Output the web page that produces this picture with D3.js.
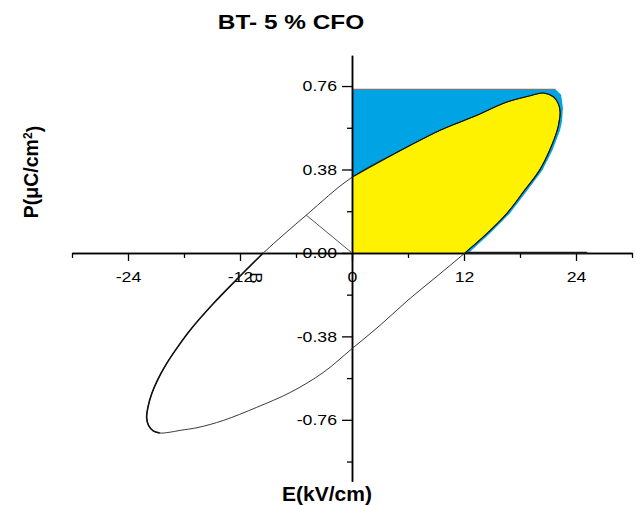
<!DOCTYPE html>
<html><head><meta charset="utf-8">
<script src="https://cdn.jsdelivr.net/npm/d3@7"></script>
<style>body{margin:0;background:#fff}svg{display:block}text{font-family:"Liberation Sans",Arial,sans-serif;fill:#000}</style>
</head><body><svg id="c" width="636" height="505"></svg>
<script>
const titleText = "BT- 5 % CFO";
const xTitle = "E(kV/cm)";
const xMajor = [-24, -12, 0, 12, 24];
const xMinor = [-30, -18, -6, 6, 18, 30];
const yMajor = [-0.76, -0.38, 0, 0.38, 0.76];
const yMinor = [-0.95, -0.57, -0.19, 0.19, 0.57];
// ascending (upper) branch of the P-E loop
const upE = [-20.6, -21.3, -21.8, -22.0, -21.85, -21.45, -20.85, -19.95, -18.95, -17.35, -14.95, -12.45, -9.5, -4.9, 0, 5.8, 9.5, 13, 16.6, 19, 20.5, 21.6, 22.1, 22.3];
const upP = [-0.82, -0.81, -0.785, -0.75, -0.70, -0.64, -0.58, -0.51, -0.445, -0.352, -0.235, -0.125, 0, 0.172, 0.345, 0.48, 0.56, 0.62, 0.687, 0.715, 0.728, 0.71, 0.68, 0.64];
// descending (lower) branch
const dnE = [22.3, 22.2, 22.0, 21.2, 20.1, 18.4, 16.6, 14.5, 12.1, 9, 6, 3, 0, -3.1, -6.6, -10.2, -13.8, -16.5, -18.4, -19.6, -20.6];
const dnP = [0.64, 0.60, 0.56, 0.47, 0.377, 0.28, 0.18, 0.09, 0, -0.11, -0.215, -0.33, -0.436, -0.545, -0.635, -0.703, -0.763, -0.795, -0.808, -0.817, -0.82];
// blue (recoverable-energy) region outline
const blueE = [0, 21.8, 22.4, 22.6, 22.5, 22.3, 21.5, 20.4, 18.7, 16.9, 14.8, 12.5, 0];
const blueP = [0.745, 0.745, 0.72, 0.66, 0.60, 0.56, 0.47, 0.377, 0.28, 0.18, 0.09, 0, 0];
const chordE = [0, -4.9], chordP = [0, 0.172];
const traceE = [12.3, 25.2], traceP = [0, 0];
const markText = "B", markE = -10.3, markP = -0.114;

const svg = d3.select("#c");
const x = d3.scaleLinear().domain([-30, 30]).range([72, 632]);
const y = d3.scaleLinear().domain([-1.04, 0.90]).range([481.3, 55.3]);
const pts = (a, b) => a.map((v, i) => [v, b[i]]);
const line = d3.line().x(d => x(d[0])).y(d => y(d[1]));

// fills
svg.append("path").attr("d", line(pts(blueE, blueP)) + "Z").attr("fill", "#00A3E4");
svg.append("line").attr("x1", x(blueE[0])).attr("x2", x(blueE[1]))
  .attr("y1", y(blueP[0])).attr("y2", y(blueP[1])).attr("stroke", "#7a7a7a").attr("stroke-width", 1.2);
const up = pts(upE, upP), dn = pts(dnE, dnP);
const arc = up.filter(d => d[0] >= 0).concat(dn.slice(1).filter(d => d[1] >= 0));
const cr = d3.line().x(d => x(d[0])).y(d => y(d[1])).curve(d3.curveCatmullRom.alpha(0.5));
svg.append("path").attr("d", cr(arc) + `L${x(0)},${y(0)}Z`).attr("fill", "#FFF200");

// axes
const fmtX = d => String(d);
const fmtY = d => d.toFixed(2);
const gx = svg.append("g").attr("transform", `translate(0,${y(0)})`);
gx.call(d3.axisBottom(x).tickValues(xMinor).tickSize(5).tickSizeOuter(0).tickFormat(""));
gx.append("g").call(d3.axisBottom(x).tickValues(xMajor).tickSize(8).tickSizeOuter(0).tickPadding(11).tickFormat(fmtX));
const gy = svg.append("g").attr("transform", `translate(${x(0)},0)`);
gy.call(d3.axisLeft(y).tickValues(yMinor).tickSize(5).tickSizeOuter(0).tickFormat(""));
gy.append("g").call(d3.axisLeft(y).tickValues(yMajor).tickSize(10).tickSizeOuter(0).tickPadding(5).tickFormat(fmtY));
svg.selectAll(".domain").attr("stroke", "#000").attr("stroke-width", 1.5);
svg.selectAll(".tick line").attr("stroke", "#000").attr("stroke-width", 1.3);
svg.selectAll(".tick text").attr("font-size", "14.5px").attr("fill", "#000")
  .attr("font-family", '"Liberation Sans",Arial,sans-serif');
gx.selectAll(".tick text").attr("transform", "scale(1.22,1)");
gy.selectAll(".tick text").attr("x", -15 / 1.22).attr("transform", "scale(1.22,1)");

// loop
const loop = up.concat(dn.slice(1, -1));
svg.append("path").attr("d", d3.line().x(d => x(d[0])).y(d => y(d[1])).curve(d3.curveCatmullRomClosed.alpha(0.5))(loop))
  .attr("fill", "none").attr("stroke", "#3a3a3a").attr("stroke-width", 1);
svg.append("path").attr("d", cr(up.slice(0, 13))).attr("fill", "none").attr("stroke", "#111").attr("stroke-width", 1.6);
svg.append("path").attr("d", cr(arc)).attr("fill", "none").attr("stroke", "#111").attr("stroke-width", 1.1);
svg.append("path").attr("d", line(pts(chordE, chordP))).attr("fill", "none").attr("stroke", "#555").attr("stroke-width", 1);
svg.append("path").attr("d", line(pts(traceE, traceP))).attr("fill", "none").attr("stroke", "#1a1a1a").attr("stroke-width", 2.2);

// texts
svg.append("text").attr("transform", `translate(291,28.5) scale(1.19,1)`).attr("text-anchor", "middle")
  .attr("font-weight", "bold").attr("font-size", "20.5px").text(titleText);
svg.append("text").attr("transform", `translate(327,501)`).attr("text-anchor", "middle")
  .attr("font-weight", "bold").attr("font-size", "21px").text(xTitle);
const yl = svg.append("text").attr("transform", `translate(37.5,172) rotate(-90)`).attr("text-anchor", "middle")
  .attr("font-weight", "bold").attr("font-size", "19.5px");
yl.append("tspan").text("P(\u03BCC/cm");
yl.append("tspan").attr("dy", "-0.45em").attr("font-size", "12px").text("2");
yl.append("tspan").attr("dy", "0.45em").text(")");
svg.append("text").attr("transform", `translate(${x(markE)},${y(markP)}) rotate(90)`).attr("text-anchor", "middle")
  .attr("dy", "0.35em").attr("font-size", "17px").text(markText);
</script></body></html>
